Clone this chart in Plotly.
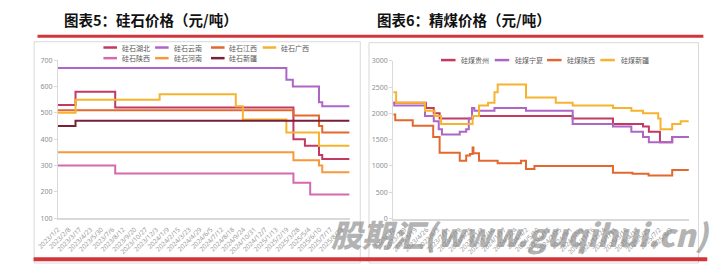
import plotly.graph_objects as go

W, H = 715, 267

# ---------------- data: 硅石价格 (left) ----------------
hubei_dates = ["2023-01-02", "2023-03-03", "2023-07-16", "2025-03-13", "2025-04-21", "2025-06-08", "2025-06-19", "2025-09-20"]
hubei_vals = [530, 580, 520, 400, 375, 340, 325, 325]
yunnan_dates = ["2023-01-02", "2025-02-17", "2025-03-11", "2025-06-08", "2025-06-19", "2025-09-20"]
yunnan_vals = [670, 625, 600, 540, 525, 525]
jiangxi_dates = ["2023-01-02", "2025-03-13", "2025-06-08", "2025-06-19", "2025-09-20"]
jiangxi_vals = [510, 490, 450, 425, 425]
guangxi_dates = ["2023-01-02", "2023-03-03", "2023-12-14", "2024-08-29", "2024-09-22", "2025-02-17", "2025-06-08", "2025-09-20"]
guangxi_vals = [500, 550, 570, 525, 475, 425, 375, 375]
shaanxi_dates = ["2023-01-02", "2023-07-16", "2025-03-13", "2025-05-09", "2025-09-20"]
shaanxi_vals = [300, 270, 235, 190, 190]
henan_dates = ["2023-01-02", "2025-03-13", "2025-06-08", "2025-06-19", "2025-09-20"]
henan_vals = [350, 320, 300, 275, 275]
xinjiang_dates = ["2023-01-02", "2023-03-03", "2025-09-20"]
xinjiang_vals = [450, 470, 470]

left_names = ["硅石湖北", "硅石云南", "硅石江西", "硅石广西", "硅石陕西", "硅石河南", "硅石新疆"]
left_ticks = ["2023/1/2", "2023/2/8", "2023/3/17", "2023/4/23", "2023/5/30", "2023/7/6", "2023/8/12",
              "2023/9/20", "2023/10/27", "2023/12/3", "2024/1/9", "2024/2/15", "2024/3/23", "2024/4/29",
              "2024/6/5", "2024/7/12", "2024/8/18", "2024/9/24", "2024/10/31", "2024/12/7", "2025/1/13",
              "2025/2/19", "2025/3/28", "2025/5/4", "2025/6/10", "2025/7/17", "2025/8/23"]

# ---------------- data: 精煤价格 (right) ----------------
gz_dates = ["2023-01-02", "2023-04-24", "2023-05-21", "2023-06-10", "2023-10-01", "2024-09-08", "2025-01-24",
            "2025-05-07", "2025-05-27", "2025-07-04", "2025-08-15", "2025-10-11"]
gz_vals = [2200, 2100, 2000, 1900, 1950, 1900, 1800, 1750, 1650, 1450, 1550, 1550]
nx_dates = ["2023-01-02", "2023-01-05", "2023-04-21", "2023-05-21", "2023-06-07", "2023-06-18", "2023-08-18",
            "2023-09-09", "2023-09-18", "2023-09-29", "2023-10-07", "2023-12-15", "2024-04-01", "2024-09-08",
            "2025-01-24", "2025-03-28", "2025-05-07", "2025-05-27", "2025-08-15", "2025-10-11"]
nx_vals = [2200, 2150, 1950, 1850, 1700, 1600, 1650, 1700, 1900, 2100, 2050, 2100, 2050, 1800,
           1750, 1650, 1550, 1450, 1550, 1550]
sx_dates = ["2023-01-02", "2023-01-09", "2023-03-10", "2023-05-19", "2023-06-10", "2023-08-18", "2023-09-09",
            "2023-09-22", "2023-10-01", "2023-10-04", "2023-10-23", "2023-12-26", "2024-03-15", "2024-04-01",
            "2024-04-30", "2025-01-24", "2025-04-01", "2025-05-26", "2025-08-15", "2025-10-11"]
sx_vals = [1980, 1870, 1765, 1550, 1250, 1100, 1200, 1225, 1350, 1240, 1100, 1050, 1100, 940,
           1000, 870, 850, 820, 925, 915]
xj_dates = ["2023-01-02", "2023-01-12", "2023-04-21", "2023-05-24", "2023-06-15", "2023-10-01", "2023-10-23",
            "2023-11-23", "2023-12-15", "2023-12-26", "2024-04-01", "2024-07-12", "2024-09-08", "2025-01-24",
            "2025-03-28", "2025-05-07", "2025-06-28", "2025-07-06", "2025-08-15", "2025-09-13", "2025-10-11"]
xj_vals = [2400, 2200, 2050, 1950, 1800, 1950, 2150, 2200, 2400, 2550, 2300, 2200, 2150, 2100,
           2050, 2000, 1900, 1700, 1800, 1850, 1850]

right_names = ["硅煤贵州", "硅煤宁夏", "硅煤陕西", "硅煤新疆"]
right_ticks = ["2023/1/2", "2023/2/9", "2023/3/19", "2023/4/26", "2023/6/3", "2023/7/11", "2023/8/18",
               "2023/9/25", "2023/11/2", "2023/12/10", "2024/1/17", "2024/2/24", "2024/4/2", "2024/5/10",
               "2024/6/17", "2024/7/25", "2024/9/1", "2024/10/9", "2024/11/16", "2024/12/24", "2025/1/31",
               "2025/3/10", "2025/4/17", "2025/5/25", "2025/7/2", "2025/8/9"]

C_CRIMSON = "#C23A62"
C_PURPLE = "#AE66C6"
C_REDOR = "#E3682F"
C_YELLOW = "#F6B42E"
C_PINK = "#D46AAE"
C_ORANGE = "#F7993B"
C_MAROON = "#7A1F38"

left_series = [
    (hubei_dates, hubei_vals, C_CRIMSON),
    (yunnan_dates, yunnan_vals, C_PURPLE),
    (jiangxi_dates, jiangxi_vals, C_REDOR),
    (guangxi_dates, guangxi_vals, C_YELLOW),
    (shaanxi_dates, shaanxi_vals, C_PINK),
    (henan_dates, henan_vals, C_ORANGE),
    (xinjiang_dates, xinjiang_vals, C_MAROON),
]
right_series = [
    (gz_dates, gz_vals, C_CRIMSON),
    (nx_dates, nx_vals, C_PURPLE),
    (sx_dates, sx_vals, C_REDOR),
    (xj_dates, xj_vals, C_YELLOW),
]


def px(x):
    return x / W


def py(y):
    return 1 - y / H


def to_iso(lbl):
    y, m, d = lbl.split("/")
    return f"{int(y):04d}-{int(m):02d}-{int(d):02d}"


fig = go.Figure()
for (d, v, c), n in zip(left_series, left_names):
    fig.add_trace(go.Scatter(x=d, y=v, name=n, mode="lines", line=dict(color=c, width=2, shape="hv"),
                             xaxis="x", yaxis="y", showlegend=False))
for (d, v, c), n in zip(right_series, right_names):
    fig.add_trace(go.Scatter(x=d, y=v, name=n, mode="lines", line=dict(color=c, width=2, shape="hv"),
                             xaxis="x2", yaxis="y2", showlegend=False))

tickfont = dict(family="Noto Sans, DejaVu Sans", size=7, color="#8a8f99")
axis_common_x = dict(type="date", showgrid=False, zeroline=False, showline=True, linecolor="#d9d9d9",
                     linewidth=2, ticks="", tickangle=-45, ticklabelstandoff=3,
                     tickfont=dict(family="Noto Sans", size=6.5, color="#9a9a9a"))
axis_common_y = dict(showgrid=False, zeroline=False, showline=True, linecolor="#d9d9d9", linewidth=1,
                     ticks="outside", ticklen=3, tickcolor="#d9d9d9", tickfont=tickfont)

fig.update_layout(
    width=W, height=H, margin=dict(l=0, r=0, t=0, b=0),
    paper_bgcolor="white", plot_bgcolor="white",
    xaxis=dict(axis_common_x, domain=[px(37), px(338)], range=["2023-01-02", "2025-09-20"],
               tickvals=[to_iso(t) for t in left_ticks], ticktext=left_ticks, anchor="y"),
    yaxis=dict(axis_common_y, domain=[py(220.7), py(57)], range=[100, 700], dtick=100, anchor="x"),
    xaxis2=dict(axis_common_x, domain=[px(383), px(688)], range=["2023-01-02", "2025-10-11"],
                tickvals=[to_iso(t) for t in right_ticks], ticktext=right_ticks, anchor="y2"),
    yaxis2=dict(axis_common_y, domain=[py(221), py(57.7)], range=[0, 3000], dtick=500, anchor="x2"),
)

shapes = []
annotations = []
# panel frames
shapes.append(dict(type="rect", xref="paper", yref="paper", x0=px(12.5), x1=px(349), y0=py(267), y1=py(38),
                   line=dict(color="#d9d9d9", width=1), fillcolor="rgba(0,0,0,0)", layer="below"))
shapes.append(dict(type="rect", xref="paper", yref="paper", x0=px(358), x1=px(698), y0=py(267), y1=py(39),
                   line=dict(color="#d9d9d9", width=1), fillcolor="rgba(0,0,0,0)", layer="below"))
# red rules
shapes.append(dict(type="line", xref="paper", yref="paper", x0=px(16), x1=px(703), y0=py(32.3), y1=py(32.3),
                   line=dict(color="#D2363A", width=3)))
shapes.append(dict(type="line", xref="paper", yref="paper", x0=px(12), x1=px(707), y0=py(263), y1=py(263),
                   line=dict(color="#D2363A", width=4)))

# titles
annotations.append(dict(text="<b>图表5：硅石价格（元/吨）</b>", xref="paper", yref="paper", x=px(41), y=py(15.5),
                        xanchor="left", yanchor="middle", showarrow=False, align="left",
                        font=dict(family="Noto Sans CJK SC", size=14.5, color="#111111")))
annotations.append(dict(text="<b>图表6：精煤价格（元/吨）</b>", xref="paper", yref="paper", x=px(364), y=py(15.5),
                        xanchor="left", yanchor="middle", showarrow=False, align="left",
                        font=dict(family="Noto Sans CJK SC", size=14.5, color="#111111")))

# legends (drawn as keys)
legfont = dict(family="Noto Sans CJK SC", size=7, color="#595959")
left_leg_pos = [(84, 44), (137.3, 44), (195, 44), (248.3, 44), (84, 55), (137.3, 55), (195, 55)]
for (sx, sy), (d, v, c), n in zip(left_leg_pos, left_series, left_names):
    shapes.append(dict(type="line", xref="paper", yref="paper", x0=px(sx), x1=px(sx + 14), y0=py(sy), y1=py(sy),
                       line=dict(color=c, width=2.5)))
    annotations.append(dict(text=n, xref="paper", yref="paper", x=px(sx + 17), y=py(sy), xanchor="left",
                            yanchor="middle", showarrow=False, align="left", font=legfont))
right_leg_pos = [(432.3, 57), (487.7, 57), (541.7, 57), (596.7, 57)]
for (sx, sy), (d, v, c), n in zip(right_leg_pos, right_series, right_names):
    shapes.append(dict(type="line", xref="paper", yref="paper", x0=px(sx), x1=px(sx + 15), y0=py(sy), y1=py(sy),
                       line=dict(color=c, width=2.5)))
    annotations.append(dict(text=n, xref="paper", yref="paper", x=px(sx + 19), y=py(sy), xanchor="left",
                            yanchor="middle", showarrow=False, align="left", font=legfont))

# watermark
annotations.append(dict(text="股期汇(www.guqihui.cn)", xref="paper", yref="paper", x=px(317), y=py(236),
                        xanchor="left", yanchor="middle", showarrow=False, align="left",
                        font=dict(family="Noto Sans CJK SC", size=31, color="rgba(128,128,128,0.6)",
                                  weight=900, style="italic")))

fig.update_layout(shapes=shapes, annotations=annotations)
fig.write_html("out.html")
